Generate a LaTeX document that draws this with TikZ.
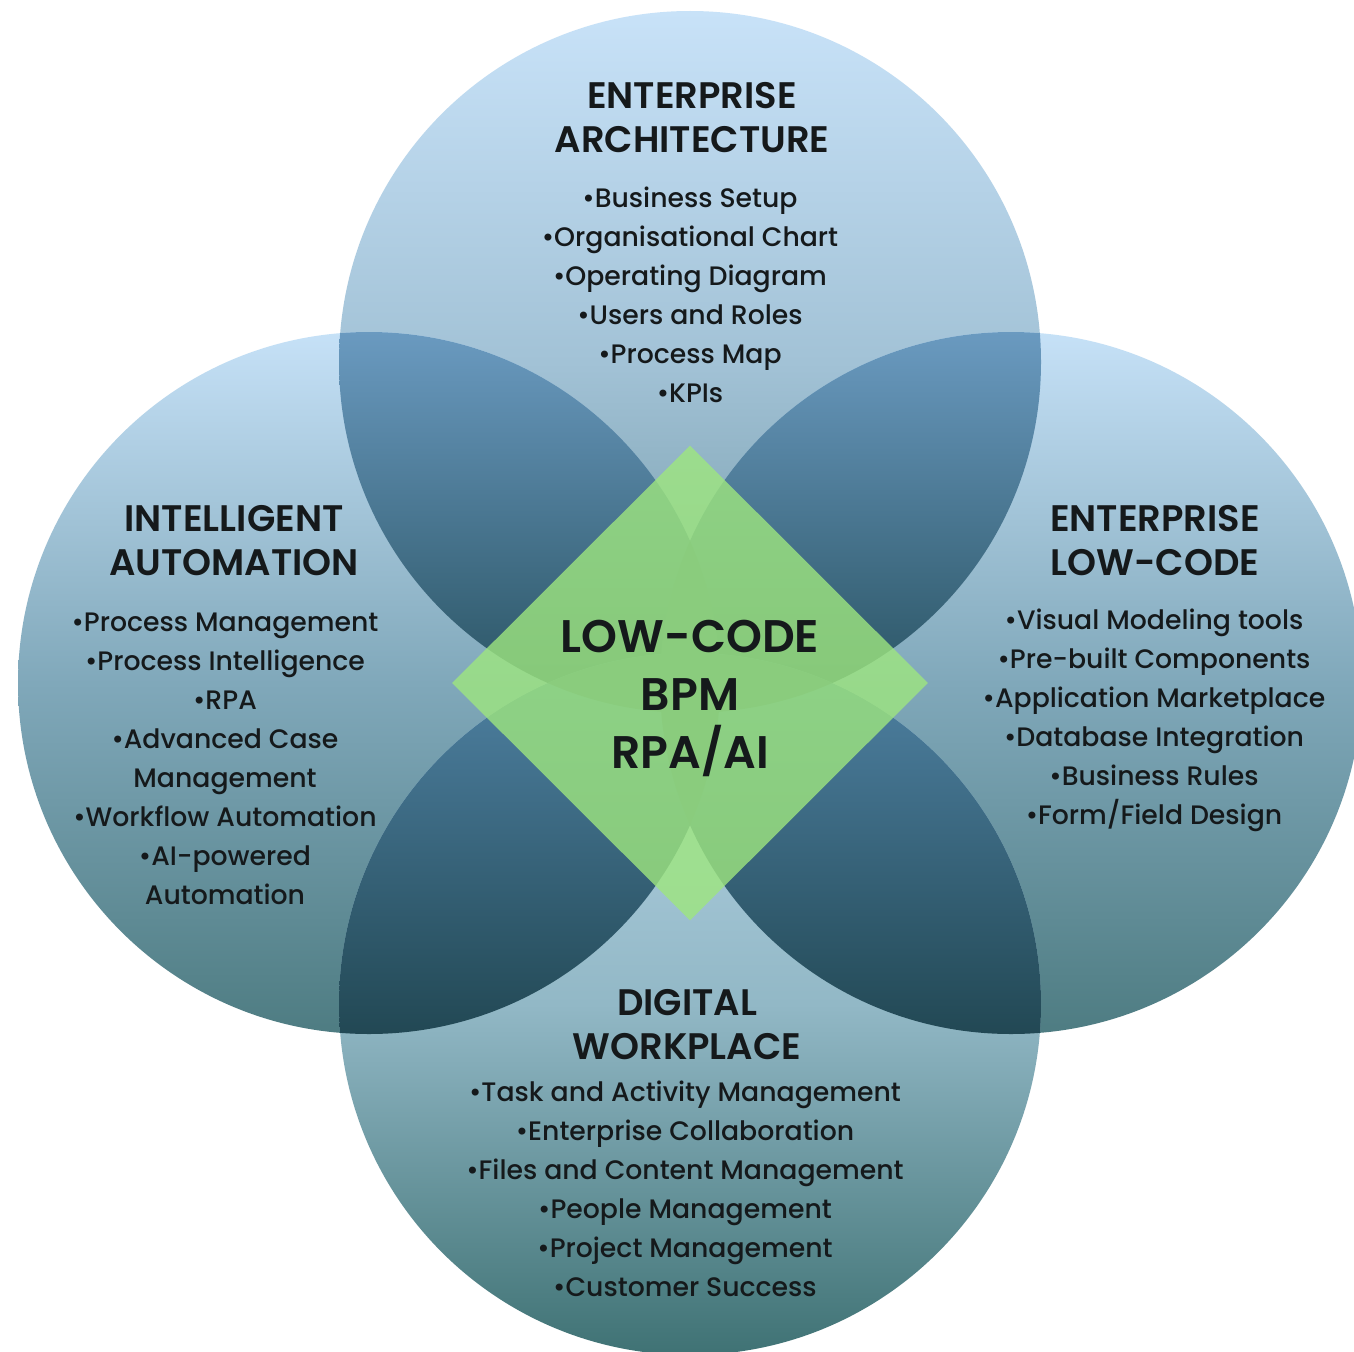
\documentclass[tikz,border=0pt]{standalone}
\usepackage{fontspec}
\IfFontExistsTF{Poppins Medium}{\setmainfont{Poppins Medium}}{\setmainfont{Poppins}}
\IfFontExistsTF{Poppins SemiBold}{\newfontfamily\headfont{Poppins SemiBold}}{\newfontfamily\headfont{Poppins}}
\usetikzlibrary{shapes.geometric,positioning}

\definecolor{ink}{HTML}{15191B}
% circle shadings
\definecolor{eaTop}{HTML}{C8E2F8}
\definecolor{eaMid}{HTML}{A2C2D6}
\definecolor{eaBot}{HTML}{6A929E}
\definecolor{sideTop}{HTML}{C6E1F7}
\definecolor{sideMid}{HTML}{80A8BA}
\definecolor{sideBot}{HTML}{4E7C82}
\definecolor{dwTop}{HTML}{BAD7EA}
\definecolor{dwMid}{HTML}{92B8C6}
\definecolor{dwBot}{HTML}{3F7274}
% overlaps
\definecolor{upTop}{HTML}{6A9AC0}
\definecolor{upMid}{HTML}{2C5666}
\definecolor{upBot}{HTML}{1F424C}
\definecolor{lowTop}{HTML}{7AAAC8}
\definecolor{lowMid}{HTML}{4D7FA0}
\definecolor{lowBot}{HTML}{224854}
\definecolor{coreLens}{HTML}{3A6878}
\definecolor{leaf}{HTML}{9EE67F}

\tikzset{
  head/.style={align=center, text=ink, font=\headfont\fontsize{21}{25}\selectfont},
  items/.style={align=center, text=ink, font=\fontsize{15.2}{22.2}\selectfont},
  core/.style={diamond, fill=leaf, fill opacity=0.8, inner sep=0pt,
    minimum width=9.52cm, minimum height=9.50cm},
  coretext/.style={align=center, text=ink, font=\headfont\fontsize{26}{33}\selectfont}
}

\begin{document}
\begin{tikzpicture}[scale=2]
	\useasboundingbox (0,0) rectangle (13.54,-13.51);
	\fill[white] (0,0) rectangle (13.54,-13.51);

	\coordinate (ea) at (6.90,-3.62);
	\coordinate (ia) at (3.69,-6.83);
	\coordinate (lc) at (10.11,-6.83);
	\coordinate (dw) at (6.90,-10.04);

	% the four circles
	\shade[top color=eaTop, bottom color=eaBot, middle color=eaMid] (ea) circle (3.51);
	\shade[top color=sideTop, bottom color=sideBot, middle color=sideMid] (ia) circle (3.51);
	\shade[top color=sideTop, bottom color=sideBot, middle color=sideMid] (lc) circle (3.51);
	\shade[top color=dwTop, bottom color=dwBot, middle color=dwMid] (dw) circle (3.51);

	% overlaps
	\begin{scope}
		\clip (ea) circle (3.51);
		\shade[top color=upTop, bottom color=upBot, middle color=upMid] (ia) circle (3.51);
		\shade[top color=upTop, bottom color=upBot, middle color=upMid] (lc) circle (3.51);
	\end{scope}
	\begin{scope}
		\clip (dw) circle (3.51);
		\shade[top color=lowTop, bottom color=lowBot, middle color=lowMid] (ia) circle (3.51);
		\shade[top color=lowTop, bottom color=lowBot, middle color=lowMid] (lc) circle (3.51);
		\fill[coreLens] (ea) circle (3.51);
	\end{scope}
	\begin{scope}
		\clip (ia) circle (3.51);
		\fill[coreLens] (lc) circle (3.51);
	\end{scope}

	% centre
	\node[core] (hub) at (6.90,-6.83) {};
	\node[coretext] (hubtext) at (6.90,-6.98) {LOW-CODE\\BPM\\RPA/AI};

	% enterprise architecture
	\node[head] (eahead) at (6.92,-1.18) {ENTERPRISE\\ARCHITECTURE};
	\node[items] (ealist) at (6.90,-2.95) {\textbullet Business Setup\\\textbullet Organisational Chart\\\textbullet Operating Diagram\\\textbullet Users and Roles\\\textbullet Process Map\\\textbullet KPIs};

	% intelligent automation
	\node[head] (iahead) at (2.34,-5.41) {INTELLIGENT\\AUTOMATION};
	\node[items] (ialist) at (2.25,-7.59) {\textbullet Process Management\\\textbullet Process Intelligence\\\textbullet RPA\\\textbullet Advanced Case\\Management\\\textbullet Workflow Automation\\\textbullet AI-powered\\Automation};

	% enterprise low-code
	\node[head] (lchead) at (11.55,-5.41) {ENTERPRISE\\LOW-CODE};
	\node[items] (lclist) at (11.54,-7.20) {\textbullet Visual Modeling tools\\\textbullet Pre-built Components\\\textbullet Application Marketplace\\\textbullet Database Integration\\\textbullet Business Rules\\\textbullet Form/Field Design};

	% digital workplace
	\node[head] (dwhead) at (6.87,-10.25) {DIGITAL\\WORKPLACE};
	\node[items] (dwlist) at (6.85,-11.89) {\textbullet Task and Activity Management\\\textbullet Enterprise Collaboration\\\textbullet Files and Content Management\\\textbullet People Management\\\textbullet Project Management\\\textbullet Customer Success};
\end{tikzpicture}
\end{document}
